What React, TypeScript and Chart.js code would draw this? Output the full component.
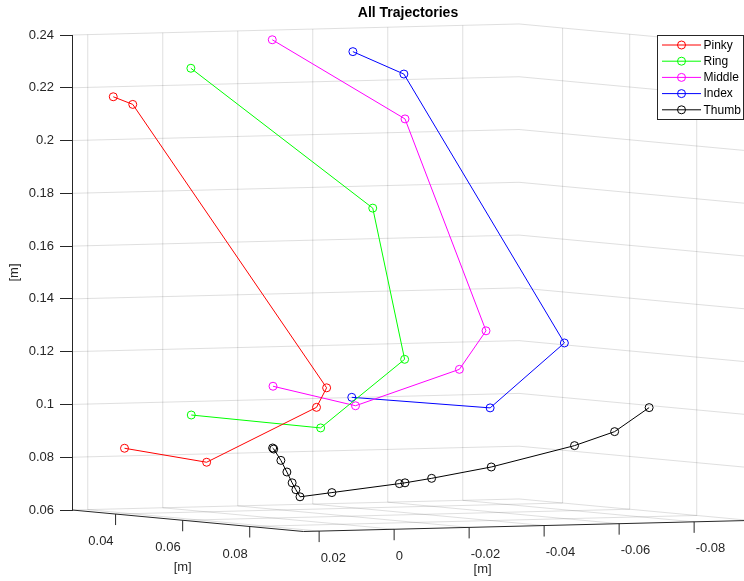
import React, { useEffect, useRef } from 'react';
import { Chart, registerables } from 'chart.js';

Chart.register(...registerables);

// Series names and colours
const seriesNames = ['Pinky', 'Ring', 'Middle', 'Index', 'Thumb'];
const seriesColors = ['#ff0000', '#00ff00', '#ff00ff', '#0000ff', '#000000'];

// Values as read in the picture plane:
// x = reading on the right-hand floor [m] axis, y = reading on the vertical [m] axis
const pinkyX = [0.0749, 0.0697, 0.0180, 0.0207, 0.0500, 0.0719];
const pinkyY = [0.2166, 0.2137, 0.1063, 0.0989, 0.0781, 0.0834];

const ringX = [0.0542, 0.0057, -0.0028, 0.0196, 0.0541];
const ringY = [0.2274, 0.1744, 0.1171, 0.0911, 0.0960];

const middleX = [0.0325, -0.0029, -0.0245, -0.0174, 0.0103, 0.0323];
const middleY = [0.2382, 0.2082, 0.1279, 0.1133, 0.0995, 0.1069];

const indexX = [0.0110, -0.0026, -0.0454, -0.0256, 0.0113];
const indexY = [0.2337, 0.2252, 0.1233, 0.0987, 0.1027];

const thumbX = [0.0324, 0.0321, 0.0302, 0.0286, 0.0272, 0.0262, 0.0251, 0.0166, -0.0014, -0.0029, -0.0100, -0.0259, -0.0481, -0.0588, -0.0680];
const thumbY = [0.0835, 0.0831, 0.0788, 0.0744, 0.0703, 0.0677, 0.0650, 0.0666, 0.0700, 0.0703, 0.0720, 0.0763, 0.0844, 0.0897, 0.0988];

// Tick values / labels
const zTicks = [0.06, 0.08, 0.1, 0.12, 0.14, 0.16, 0.18, 0.2, 0.22, 0.24];
const zTickLabels = ['0.06', '0.08', '0.1', '0.12', '0.14', '0.16', '0.18', '0.2', '0.22', '0.24'];
const depthTicks = [0.04, 0.06, 0.08];
const depthTickLabels = ['0.04', '0.06', '0.08'];
const widthTicks = [0.02, 0, -0.02, -0.04, -0.06, -0.08];
const widthTickLabels = ['0.02', '0', '-0.02', '-0.04', '-0.06', '-0.08'];

// 3D box limits
const A0 = 0.027, A1 = 0.096; // depth axis (left floor axis)
const B0 = 0.0242, B1 = -0.095; // width axis (right floor axis)
const Z0 = 0.06, Z1 = 0.24;
// view projection factors (picture-plane units per axis unit)
const CA = 0.0617 / (A1 - A0);
const CZA = 0.118;
const CZB = 0.0351;

const FONT = '"Liberation Sans", Arial, Helvetica, sans-serif';
const AXIS_COLOR = '#262626';
const GRID_COLOR = 'rgba(38,38,38,0.15)';

export default function App() {
  const ref = useRef<HTMLCanvasElement>(null);

  useEffect(() => {
    const canvas = ref.current!;
    const xs = [pinkyX, ringX, middleX, indexX, thumbX];
    const ys = [pinkyY, ringY, middleY, indexY, thumbY];
    const datasets = seriesNames.map((name, i) => ({
      label: name,
      data: xs[i].map((x, j) => ({ x, y: ys[i][j] })),
      showLine: true,
      borderColor: seriesColors[i],
      backgroundColor: 'rgba(0,0,0,0)',
      borderWidth: 1,
      pointRadius: 4,
      pointBorderWidth: 1,
      pointBorderColor: seriesColors[i],
      pointBackgroundColor: 'rgba(0,0,0,0)',
      tension: 0,
    }));

    const P = (chart: any, a: number, b: number, z: number): [number, number] => {
      const sx = chart.scales.x, sy = chart.scales.y;
      return [
        sx.getPixelForValue(b + CA * (A1 - a)),
        sy.getPixelForValue(z - CZA * (a - A0) + CZB * (B0 - b)),
      ];
    };
    const poly = (ctx: CanvasRenderingContext2D, pts: [number, number][]) => {
      ctx.beginPath();
      pts.forEach((p, i) => (i ? ctx.lineTo(p[0], p[1]) : ctx.moveTo(p[0], p[1])));
      ctx.stroke();
    };

    const boxPlugin = {
      id: 'box3d',
      beforeDatasetsDraw(chart: any) {
        const ctx: CanvasRenderingContext2D = chart.ctx;
        ctx.save();
        ctx.lineWidth = 1;
        ctx.strokeStyle = GRID_COLOR;
        // wall horizontal grid lines
        zTicks.forEach((z) => poly(ctx, [P(chart, A0, B0, z), P(chart, A0, B1, z), P(chart, A1, B1, z)]));
        // left wall vertical lines + floor lines (width ticks)
        widthTicks.forEach((b) => {
          poly(ctx, [P(chart, A0, b, Z0), P(chart, A0, b, Z1)]);
          poly(ctx, [P(chart, A0, b, Z0), P(chart, A1, b, Z0)]);
        });
        // right wall vertical lines + floor lines (depth ticks)
        depthTicks.forEach((a) => {
          poly(ctx, [P(chart, a, B1, Z0), P(chart, a, B1, Z1)]);
          poly(ctx, [P(chart, a, B0, Z0), P(chart, a, B1, Z0)]);
        });
        // axis lines
        ctx.strokeStyle = AXIS_COLOR;
        poly(ctx, [P(chart, A0, B0, Z0), P(chart, A1, B0, Z0), P(chart, A1, B1, Z0)]);
        ctx.font = `13px ${FONT}`;
        ctx.fillStyle = AXIS_COLOR;
        ctx.textBaseline = 'middle';
        depthTicks.forEach((a, i) => {
          const p = P(chart, a, B0, Z0);
          poly(ctx, [p, [p[0], p[1] + 11]]);
          ctx.textAlign = 'right';
          ctx.fillText(depthTickLabels[i], p[0] - 2, p[1] + 27.5);
        });
        widthTicks.forEach((b, i) => {
          const p = P(chart, A1, b, Z0);
          poly(ctx, [p, [p[0], p[1] + 11]]);
          ctx.textAlign = 'left';
          ctx.fillText(widthTickLabels[i], p[0] + 1.5, p[1] + 27);
        });
        ctx.textAlign = 'center';
        const la = P(chart, (A0 + A1) / 2, B0, Z0);
        ctx.fillText('[m]', la[0] - 5, la[1] + 46.5);
        const lb = P(chart, A1, -0.024, Z0);
        ctx.fillText('[m]', lb[0] - 1.5, lb[1] + 42.5);
        ctx.restore();
      },
      afterDraw(chart: any) {
        const ctx: CanvasRenderingContext2D = chart.ctx;
        const area = chart.chartArea;
        const w = 86, rowH = 16.2, h = 84;
        const left = Math.round(area.right - w) - 0.5;
        const top = Math.round(area.top) + 0.5;
        ctx.save();
        ctx.fillStyle = '#ffffff';
        ctx.fillRect(left, top, w, h);
        ctx.strokeStyle = AXIS_COLOR;
        ctx.lineWidth = 1;
        ctx.strokeRect(left, top, w, h);
        ctx.font = `12px ${FONT}`;
        ctx.textBaseline = 'middle';
        ctx.textAlign = 'left';
        chart.data.datasets.forEach((ds: any, i: number) => {
          const y = top + 9.5 + i * rowH;
          ctx.strokeStyle = ds.borderColor;
          ctx.beginPath();
          ctx.moveTo(left + 4.5, y);
          ctx.lineTo(left + 43.5, y);
          ctx.stroke();
          ctx.beginPath();
          ctx.arc(left + 24, y, 4, 0, Math.PI * 2);
          ctx.stroke();
          ctx.fillStyle = '#000000';
          ctx.fillText(ds.label, left + 46, y + 0.5);
        });
        ctx.restore();
      },
    };

    const chart = new Chart(canvas, {
      type: 'scatter',
      data: { datasets: datasets as any },
      options: {
        animation: false,
        responsive: false,
        events: [],
        layout: { autoPadding: false, padding: { left: 0, right: 0, top: 0, bottom: 71 } },
        plugins: {
          legend: { display: false },
          tooltip: { enabled: false },
          title: {
            display: true,
            text: 'All Trajectories',
            fullSize: false,
            color: '#000000',
            font: { family: FONT, size: 14, weight: 'bold' },
            padding: { top: 5, bottom: 13.2 },
          },
        },
        scales: {
          x: { type: 'linear', display: false, min: -0.0933, max: 0.0859, reverse: true },
          y: {
            type: 'linear',
            position: 'left',
            min: Z0,
            max: Z1,
            afterFit: (s: any) => {
              s.width = 72;
            },
            afterBuildTicks: (s: any) => {
              s.ticks = zTicks.map((v) => ({ value: v }));
            },
            ticks: {
              autoSkip: false,
              padding: 6,
              color: AXIS_COLOR,
              font: { family: FONT, size: 13 },
              callback: (v: any) => {
                const i = zTicks.findIndex((t) => Math.abs(t - Number(v)) < 1e-9);
                return i >= 0 ? zTickLabels[i] : '';
              },
            },
            grid: { drawOnChartArea: false, drawTicks: true, tickLength: 12, color: AXIS_COLOR },
            border: { display: true, color: AXIS_COLOR, width: 1 },
            title: {
              display: true,
              text: '[m]',
              color: AXIS_COLOR,
              font: { family: FONT, size: 13 },
              padding: { top: 7, bottom: 0 },
            },
          },
        },
      } as any,
      plugins: [boxPlugin],
    });
    return () => chart.destroy();
  }, []);

  return (
    <div style={{ position: 'fixed', left: 0, top: 0, width: 744, height: 581, background: '#ffffff' }}>
      <canvas ref={ref} width={744} height={581} style={{ display: 'block', width: 744, height: 581 }} />
    </div>
  );
}
